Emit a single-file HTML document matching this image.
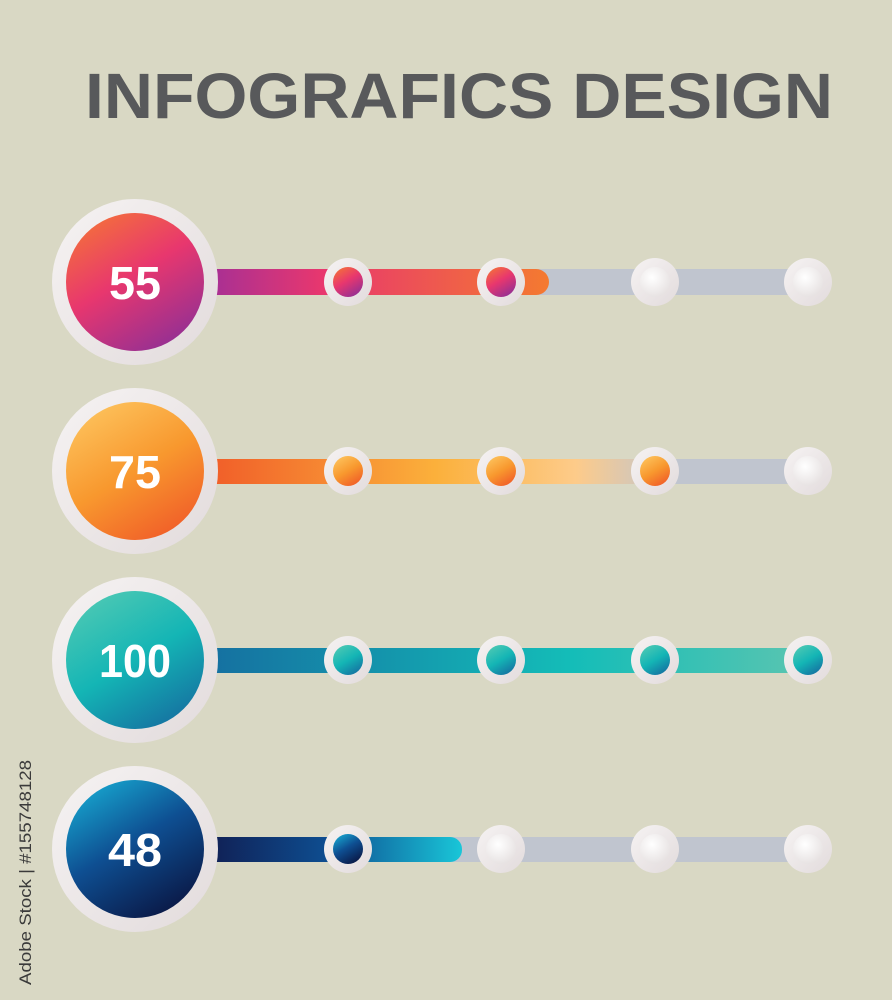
<!DOCTYPE html>
<html><head><meta charset="utf-8"><style>
html,body{margin:0;padding:0;background:#d9d8c4;}
svg{display:block}
</style></head><body>
<svg width="892" height="1000" viewBox="0 0 892 1000" xmlns="http://www.w3.org/2000/svg">
<defs>
<linearGradient id="ring" x1="0" y1="0" x2="1" y2="1"><stop offset="0" stop-color="#f6f3f3"/><stop offset="1" stop-color="#e2dbdc"/></linearGradient>
<radialGradient id="empty" cx="0.4" cy="0.35" r="0.7"><stop offset="0" stop-color="#ffffff"/><stop offset="1" stop-color="#e6e1e1"/></radialGradient>
<linearGradient id="c1" x1="0.2" y1="0" x2="0.8" y2="1"><stop offset="0" stop-color="#f4703a"/><stop offset="0.45" stop-color="#e8376e"/><stop offset="1" stop-color="#8e2f96"/></linearGradient>
<linearGradient id="c2" x1="0.2" y1="0" x2="0.8" y2="1"><stop offset="0" stop-color="#fdc35d"/><stop offset="0.5" stop-color="#f8982e"/><stop offset="1" stop-color="#f05a28"/></linearGradient>
<linearGradient id="c3" x1="0.2" y1="0" x2="0.8" y2="1"><stop offset="0" stop-color="#4ec9b4"/><stop offset="0.5" stop-color="#14b5b5"/><stop offset="1" stop-color="#156ea0"/></linearGradient>
<linearGradient id="c4" x1="0.2" y1="0" x2="0.8" y2="1"><stop offset="0" stop-color="#17a6cf"/><stop offset="0.45" stop-color="#0e4f92"/><stop offset="1" stop-color="#0a1440"/></linearGradient>
<linearGradient id="b1" x1="0" x2="1"><stop offset="0" stop-color="#a12f98"/><stop offset="0.35" stop-color="#e8376e"/><stop offset="1" stop-color="#f47a30"/></linearGradient>
<linearGradient id="b2" x1="0" x2="1"><stop offset="0" stop-color="#f05a28"/><stop offset="0.5" stop-color="#fbb03b"/><stop offset="0.8" stop-color="#fdcb8a"/><stop offset="1" stop-color="#c0c5cf"/></linearGradient>
<linearGradient id="b3" x1="0" x2="1"><stop offset="0" stop-color="#156ea0"/><stop offset="0.6" stop-color="#14bdb8"/><stop offset="1" stop-color="#5ec5b0"/></linearGradient>
<linearGradient id="b4" x1="0" x2="1"><stop offset="0" stop-color="#101c50"/><stop offset="0.5" stop-color="#0e4f92"/><stop offset="1" stop-color="#19c6d8"/></linearGradient>
</defs>
<rect width="892" height="1000" fill="#d9d8c4"/>
<text x="85" y="118" font-family="Liberation Sans, sans-serif" font-weight="bold" font-size="64" fill="#58595b" textLength="748" lengthAdjust="spacingAndGlyphs">INFOGRAFICS DESIGN</text>
<text transform="translate(31,985) rotate(-90)" font-family="Liberation Sans, sans-serif" font-size="17" fill="#3a3a3a" textLength="225" lengthAdjust="spacingAndGlyphs">Adobe Stock | #155748128</text>

<g>
<rect x="200" y="269" width="620" height="26" rx="13" fill="#c0c5cf"/>
<rect x="200" y="269" width="349" height="26" rx="13" fill="url(#b1)"/>
<circle cx="135" cy="282" r="83" fill="url(#ring)"/>
<circle cx="135" cy="282" r="69" fill="url(#c1)"/>
<text x="135" y="299" text-anchor="middle" font-family="Liberation Sans, sans-serif" font-weight="bold" font-size="46" fill="#fff" textLength="52" lengthAdjust="spacingAndGlyphs">55</text>
<circle cx="348" cy="282" r="24" fill="url(#ring)"/><circle cx="348" cy="282" r="15" fill="url(#c1)"/>
<circle cx="501" cy="282" r="24" fill="url(#ring)"/><circle cx="501" cy="282" r="15" fill="url(#c1)"/>
<circle cx="655" cy="282" r="24" fill="url(#ring)"/><circle cx="655" cy="282" r="15" fill="url(#empty)"/>
<circle cx="808" cy="282" r="24" fill="url(#ring)"/><circle cx="808" cy="282" r="15" fill="url(#empty)"/>
</g>
<g>
<rect x="200" y="459" width="620" height="25" rx="12" fill="#c0c5cf"/>
<rect x="200" y="459" width="470" height="25" fill="url(#b2)"/>
<circle cx="135" cy="471" r="83" fill="url(#ring)"/>
<circle cx="135" cy="471" r="69" fill="url(#c2)"/>
<text x="135" y="488" text-anchor="middle" font-family="Liberation Sans, sans-serif" font-weight="bold" font-size="46" fill="#fff" textLength="52" lengthAdjust="spacingAndGlyphs">75</text>
<circle cx="348" cy="471" r="24" fill="url(#ring)"/><circle cx="348" cy="471" r="15" fill="url(#c2)"/>
<circle cx="501" cy="471" r="24" fill="url(#ring)"/><circle cx="501" cy="471" r="15" fill="url(#c2)"/>
<circle cx="655" cy="471" r="24" fill="url(#ring)"/><circle cx="655" cy="471" r="15" fill="url(#c2)"/>
<circle cx="808" cy="471" r="24" fill="url(#ring)"/><circle cx="808" cy="471" r="15" fill="url(#empty)"/>
</g>
<g>
<rect x="200" y="648" width="620" height="25" rx="12" fill="url(#b3)"/>
<circle cx="135" cy="660" r="83" fill="url(#ring)"/>
<circle cx="135" cy="660" r="69" fill="url(#c3)"/>
<text x="135" y="677" text-anchor="middle" font-family="Liberation Sans, sans-serif" font-weight="bold" font-size="46" fill="#fff" textLength="72" lengthAdjust="spacingAndGlyphs">100</text>
<circle cx="348" cy="660" r="24" fill="url(#ring)"/><circle cx="348" cy="660" r="15" fill="url(#c3)"/>
<circle cx="501" cy="660" r="24" fill="url(#ring)"/><circle cx="501" cy="660" r="15" fill="url(#c3)"/>
<circle cx="655" cy="660" r="24" fill="url(#ring)"/><circle cx="655" cy="660" r="15" fill="url(#c3)"/>
<circle cx="808" cy="660" r="24" fill="url(#ring)"/><circle cx="808" cy="660" r="15" fill="url(#c3)"/>
</g>
<g>
<rect x="200" y="837" width="620" height="25" rx="12" fill="#c0c5cf"/>
<rect x="200" y="837" width="262" height="25" rx="12" fill="url(#b4)"/>
<circle cx="135" cy="849" r="83" fill="url(#ring)"/>
<circle cx="135" cy="849" r="69" fill="url(#c4)"/>
<text x="135" y="866" text-anchor="middle" font-family="Liberation Sans, sans-serif" font-weight="bold" font-size="46" fill="#fff" textLength="54" lengthAdjust="spacingAndGlyphs">48</text>
<circle cx="348" cy="849" r="24" fill="url(#ring)"/><circle cx="348" cy="849" r="15" fill="url(#c4)"/>
<circle cx="501" cy="849" r="24" fill="url(#ring)"/><circle cx="501" cy="849" r="15" fill="url(#empty)"/>
<circle cx="655" cy="849" r="24" fill="url(#ring)"/><circle cx="655" cy="849" r="15" fill="url(#empty)"/>
<circle cx="808" cy="849" r="24" fill="url(#ring)"/><circle cx="808" cy="849" r="15" fill="url(#empty)"/>
</g>
</svg>
</body></html>
